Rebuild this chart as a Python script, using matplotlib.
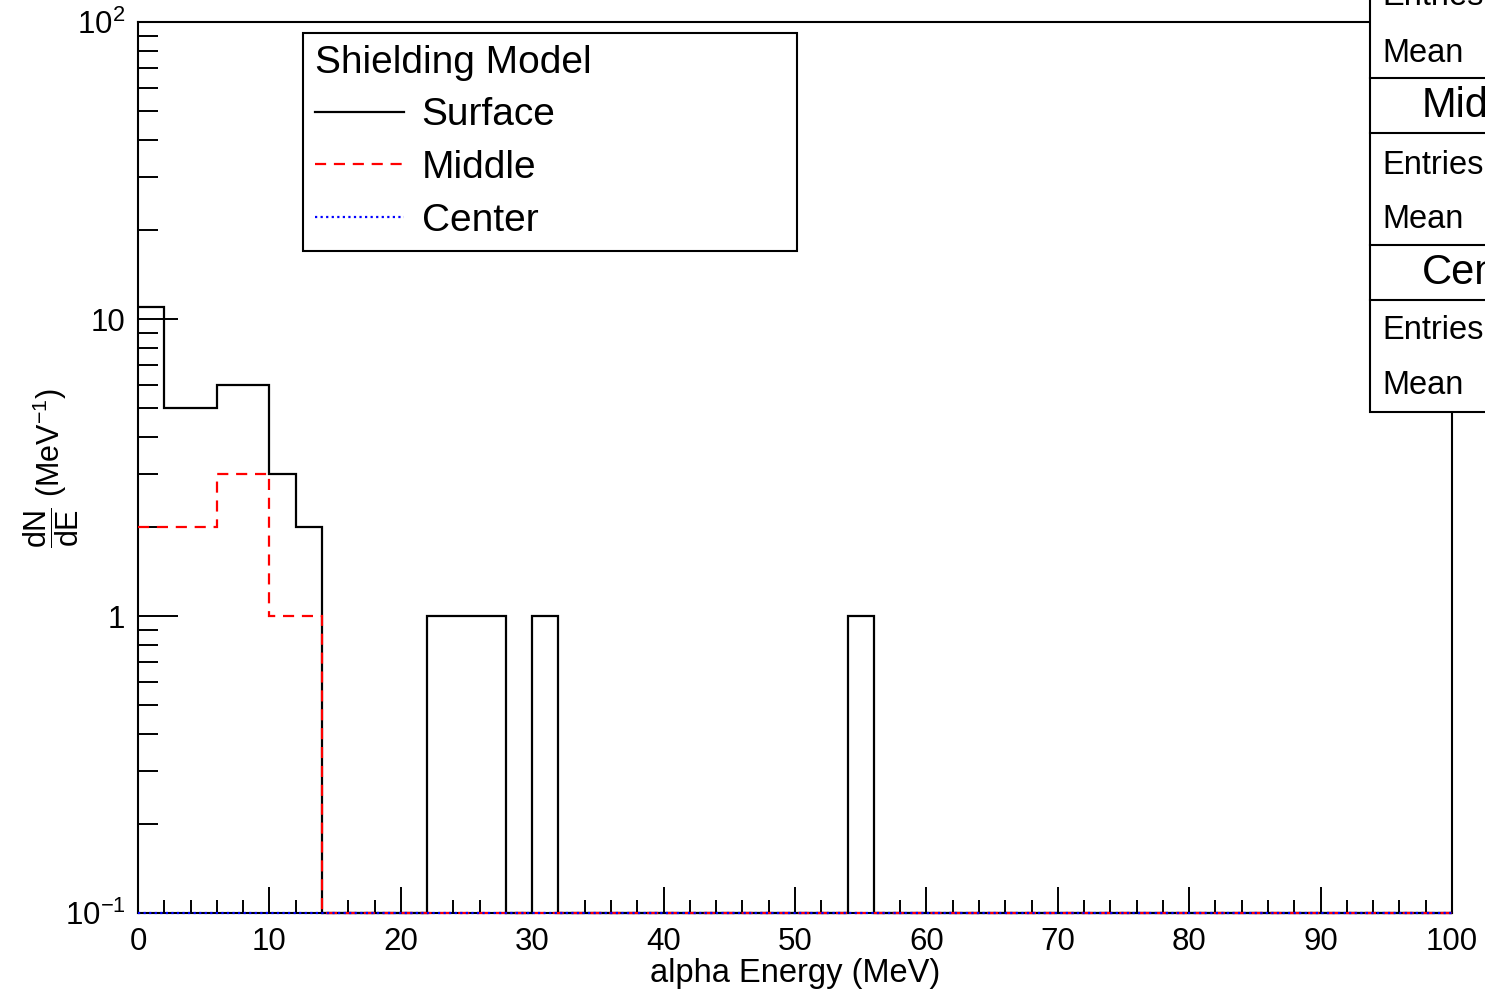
import numpy as np
import matplotlib
matplotlib.use("Agg")
import matplotlib.pyplot as plt
from matplotlib.patches import Rectangle
from matplotlib.lines import Line2D
from matplotlib.ticker import FixedLocator, FixedFormatter, MultipleLocator

plt.rcParams['font.family'] = ['Liberation Sans', 'DejaVu Sans']
plt.rcParams['mathtext.fontset'] = 'custom'
plt.rcParams['mathtext.rm'] = 'Liberation Sans'
plt.rcParams['mathtext.it'] = 'Liberation Sans:italic'

# histogram contents, 2 MeV bins from 0 to 100 MeV
bin_edges = np.arange(0, 102, 2)
surface_counts = [11, 5, 5, 6, 6, 3, 2, 0, 0, 0,
                  0, 1, 1, 1, 0, 1, 0, 0, 0, 0,
                  0, 0, 0, 0, 0, 0, 0, 1, 0, 0,
                  0, 0, 0, 0, 0, 0, 0, 0, 0, 0,
                  0, 0, 0, 0, 0, 0, 0, 0, 0, 0]
middle_counts = [2, 2, 2, 3, 3, 1, 1, 0, 0, 0,
                 0, 0, 0, 0, 0, 0, 0, 0, 0, 0,
                 0, 0, 0, 0, 0, 0, 0, 0, 0, 0,
                 0, 0, 0, 0, 0, 0, 0, 0, 0, 0,
                 0, 0, 0, 0, 0, 0, 0, 0, 0, 0]
center_counts = [0] * 50

ymin, ymax = 0.1, 100
ytick_vals = [0.1, 1, 10, 100]
ytick_labels = ['$10^{-1}$', '1', '10', '$10^{2}$']

W, H = 1485, 993
fig = plt.figure(figsize=(W / 100, H / 100), dpi=100)
ax = fig.add_axes([138 / W, 80 / H, 1314 / W, 891 / H])


def floor_zero(c):
    # empty bins sit on the bottom of the log axis, like ROOT draws them
    c = np.asarray(c, dtype=float)
    return np.where(c > 0, c, ymin)


ax.stairs(floor_zero(surface_counts), bin_edges, baseline=None,
          color='black', lw=1.6, clip_on=False, zorder=3)
ax.stairs(floor_zero(middle_counts), bin_edges, baseline=None,
          color='red', lw=1.6, ls=(0, (5, 3.5)), clip_on=False, zorder=4)
ax.stairs(floor_zero(center_counts), bin_edges, baseline=None,
          color='blue', lw=1.6, ls=(0, (1, 1.5)), clip_on=False, zorder=5)

ax.set_yscale('log')
ax.set_xlim(0, 100)
ax.set_ylim(ymin, ymax)

ax.xaxis.set_major_locator(MultipleLocator(10))
ax.xaxis.set_minor_locator(MultipleLocator(2))
ax.yaxis.set_major_locator(FixedLocator(ytick_vals))
ax.yaxis.set_major_formatter(FixedFormatter(ytick_labels))
minor_y = [m * d for d in [0.1, 1, 10] for m in range(2, 10)]
ax.yaxis.set_minor_locator(FixedLocator(minor_y))
ax.yaxis.set_minor_formatter(FixedFormatter([''] * len(minor_y)))

ax.tick_params(axis='x', which='major', direction='in', length=19, width=1.4,
               labelsize=22.5, pad=10)
ax.tick_params(axis='x', which='minor', direction='in', length=9.5, width=1.4)
ax.tick_params(axis='y', which='major', direction='in', length=29, width=1.4,
               labelsize=22.5, pad=9)
ax.tick_params(axis='y', which='minor', direction='in', length=14.5, width=1.4)
for s in ax.spines.values():
    s.set_linewidth(1.5)

ax.set_xlabel('alpha Energy (MeV)', fontsize=23.5)
ax.xaxis.set_label_coords(0.5, -0.05)
ax.set_ylabel(r'$\dfrac{\mathrm{dN}}{\mathrm{dE}}$ (MeV$^{-1}$)', fontsize=22)
ax.yaxis.set_label_coords(-0.043, 0.5)

# legend
handles = [Line2D([], [], color='black', lw=1.6),
           Line2D([], [], color='red', lw=1.6, ls=(0, (5, 3.5))),
           Line2D([], [], color='blue', lw=1.6, ls=(0, (1, 1.5)))]
leg = ax.legend(handles, ['Surface', 'Middle', 'Center'], title='Shielding Model',
                loc='upper left', bbox_to_anchor=(303 / W, 1 - 245 / H, 494 / W, 212 / H),
                bbox_transform=fig.transFigure, mode='expand', borderaxespad=0,
                fontsize=28, title_fontsize=28, alignment='left',
                handlelength=2.3, handletextpad=0.45, labelspacing=0.43,
                borderpad=0.3, fancybox=False, framealpha=1, edgecolor='black')
leg.get_frame().set_linewidth(1.5)

# stats boxes, cut off at the right edge
x0 = 1370
fig.add_artist(Rectangle((x0 / W, 1 - 412 / H), 300 / W, 520 / H,
                         transform=fig.transFigure, facecolor='white',
                         edgecolor='black', lw=1.5, zorder=10))
for yl in [78, 133, 245, 300]:
    fig.add_artist(Line2D([x0 / W, 1.2], [1 - yl / H, 1 - yl / H],
                          transform=fig.transFigure, color='black', lw=1.5, zorder=11))
stat_rows = [('Entries', -3, 23.5), ('Mean', 54, 23.5), ('Middle', 106, 30),
             ('Entries', 165, 23.5), ('Mean', 220, 23.5), ('Center', 273, 30),
             ('Entries', 331, 23.5), ('Mean', 386, 23.5)]
for txt, yc, fs in stat_rows:
    xt = 1422 if fs > 25 else 1382
    fig.text(xt / W, 1 - yc / H, txt, fontsize=fs, ha='left', va='center', zorder=12)

fig.savefig('out.png', dpi=100)
